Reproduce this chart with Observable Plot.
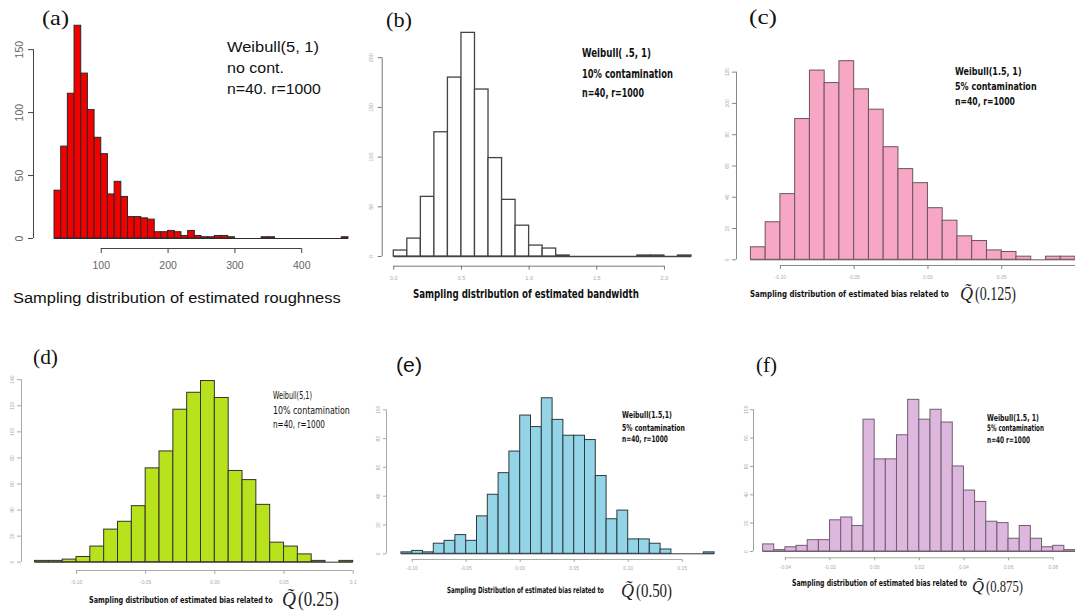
<!DOCTYPE html>
<html>
<head>
<meta charset="utf-8">
<script src="https://cdn.jsdelivr.net/npm/d3@7"></script>
<script src="https://cdn.jsdelivr.net/npm/@observablehq/plot@0.6"></script>
<style>
html, body { margin: 0; padding: 0; background: #fff; }
#fig { position: relative; width: 1075px; height: 611px; overflow: hidden; background: #fff; }
#fig svg { position: absolute; }
</style>
</head>
<body>
<div id="fig"></div>
<script>
// ---------------- DATA ----------------
// (a) estimated roughness
const aBins = [30,40,50,60,70,80,90,100,110,120,130,140,150,160,170,180,190,200,210,220,230,240,250,260,270,280,290,340,350,460];
const aCounts = [38,73,115,169,131,102,80,67,35,45,33,17,17,16,15,5,5,6,5,2,6,2,1,1,2,2,1,1,1,1];
const aBinWidth = 10;
const aXTicks = [100,200,300,400];
const aXTickLabels = ["100","200","300","400"];
const aYTicks = [0,50,100,150];

// (b) estimated bandwidth
const bBins = [0.0,0.1,0.2,0.3,0.4,0.5,0.6,0.7,0.8,0.9,1.0,1.1,1.2,1.8,1.9,2.1];
const bCounts = [6,18,60,125,180,225,168,99,57,31,11,8,1,1,1,1];
const bBinWidth = 0.1;
const bXTicks = [0.0,0.5,1.0,1.5,2.0];
const bXTickLabels = ["0.0","0.5","1.0","1.5","2.0"];
const bYTicks = [0,50,100,150,200];

// (c) bias, Q(0.125)
const cBins = [-0.12,-0.11,-0.10,-0.09,-0.08,-0.07,-0.06,-0.05,-0.04,-0.03,-0.02,-0.01,0.00,0.01,0.02,0.03,0.04,0.05,0.06,0.08,0.09];
const cCounts = [8,24,42,90,121,113,127,109,96,72,58,49,33,25,15,12,6,5,2,2,2];
const cBinWidth = 0.01;
const cXTicks = [-0.10,-0.05,0.00,0.05];
const cXTickLabels = ["-0.10","-0.05","0.00","0.05"];
const cYTicks = [0,20,40,60,80,100,120];

// (d) bias, Q(0.25)
const dBins = [-0.13,-0.12,-0.11,-0.10,-0.09,-0.08,-0.07,-0.06,-0.05,-0.04,-0.03,-0.02,-0.01,0.00,0.01,0.02,0.03,0.04,0.05,0.06,0.07,0.09];
const dCounts = [1,1,2,4,12,25,31,43,72,85,117,130,139,126,70,63,44,15,12,6,1,1];
const dBinWidth = 0.01;
const dXTicks = [-0.10,-0.05,0.00,0.05,0.10];
const dXTickLabels = ["-0.10","-0.05","0.00","0.05","0.1"];
const dYTicks = [0,20,40,60,80,100,120,140];

// (e) bias, Q(0.50)
const eBins = [-0.11,-0.10,-0.09,-0.08,-0.07,-0.06,-0.05,-0.04,-0.03,-0.02,-0.01,0.00,0.01,0.02,0.03,0.04,0.05,0.06,0.07,0.08,0.09,0.10,0.11,0.12,0.13,0.17];
const eCounts = [1,2,1,7,9,13,9,26,41,56,71,96,88,108,93,82,82,79,54,24,30,10,10,7,3,1];
const eBinWidth = 0.01;
const eXTicks = [-0.10,-0.05,0.00,0.05,0.10,0.15];
const eXTickLabels = ["-0.10","-0.05","0.00","0.05","0.10","0.15"];
const eYTicks = [0,20,40,60,80,100];

// (f) bias, Q(0.875)
const fBins = [-0.050,-0.045,-0.040,-0.035,-0.030,-0.025,-0.020,-0.015,-0.010,-0.005,0.000,0.005,0.010,0.015,0.020,0.025,0.030,0.035,0.040,0.045,0.050,0.055,0.060,0.065,0.070,0.075,0.080,0.085];
const fCounts = [5,1,3,4,8,8,22,24,18,93,65,65,82,107,93,100,91,60,43,35,21,20,9,18,9,3,4,1];
const fBinWidth = 0.005;
const fXTicks = [-0.04,-0.02,0.00,0.02,0.04,0.06,0.08];
const fXTickLabels = ["-0.04","-0.02","0.00","0.02","0.04","0.06","0.08"];
const fYTicks = [0,20,40,60,80,100];

// ---------------- TEXT ----------------
const panelLabels = ["(a)","(b)","(c)","(d)","(e)","(f)"];
const aNote = ["Weibull(5, 1)","no cont.","n=40. r=1000"];
const bNote = ["Weibull( .5, 1)","10% contamination","n=40, r=1000"];
const cNote = ["Weibull(1.5, 1)","5% contamination","n=40, r=1000"];
const dNote = ["Weibull(5,1)","10% contamination","n=40, r=1000"];
const eNote = ["Weibull(1.5,1)","5% contamination","n=40, r=1000"];
const fNote = ["Weibull(1.5, 1)","5% contamination","n=40 r=1000"];
const xTitles = [
  "Sampling distribution of estimated roughness",
  "Sampling distribution of estimated bandwidth",
  "Sampling distribution of estimated bias related to",
  "Sampling distribution of estimated bias related to",
  "Sampling Distribution of estimated bias related to",
  "Sampling distribution of estimated bias related to"
];
const qSymbol = "Q\u0303";
const qArgs = [null, null, "(0.125)", "(0.25)", "(0.50)", "(0.875)"];

// ---------------- LAYOUT / STYLE ----------------
const panels = [
  {bins:aBins, counts:aCounts, bw:aBinWidth, xTicks:aXTicks, xLab:aXTickLabels, yTicks:aYTicks, axisEnd:400,
   left:0, top:0, w:360, h:290, ml:33, mr:12, mt:24, mb:42, il:21, ib:10,
   xDomain:[30,470], yDomain:[0,170], fill:"#f20000", stroke:"#2a2a2a", sw:1,
   axis:"#444", lab:"#666", xfs:10.5, yfs:10.5, ts:5, xtp:8, ytp:6},
  {bins:bBins, counts:bCounts, bw:bBinWidth, xTicks:bXTicks, xLab:bXTickLabels, yTicks:bYTicks, axisEnd:2.0,
   left:360, top:0, w:350, h:290, ml:21.7, mr:19, mt:27.4, mb:24.3, il:11.6, ib:9.7,
   xDomain:[0,2.2], yDomain:[0,230], fill:"#ffffff", stroke:"#444", sw:1.3,
   axis:"#777", lab:"#aaa", xfs:5.5, yfs:5.5, ts:4, xtp:6, ytp:5},
  {bins:cBins, counts:cCounts, bw:cBinWidth, xTicks:cXTicks, xLab:cXTickLabels, yTicks:cYTicks, axisEnd:0.10,
   left:710, top:0, w:365, h:290, ml:26, mr:0, mt:56, mb:25, il:14.4, ib:5.7,
   xDomain:[-0.12,0.10], yDomain:[0,130], fill:"#f7a7c3", stroke:"#6a5560", sw:1,
   axis:"#888", lab:"#aaa", xfs:5, yfs:5, ts:4, xtp:6, ytp:4},
  {bins:dBins, counts:dCounts, bw:dBinWidth, xTicks:dXTicks, xLab:dXTickLabels, yTicks:dYTicks, axisEnd:0.10,
   left:0, top:340, w:370, h:271, ml:21, mr:17.3, mt:26.2, mb:41, il:13.5, ib:8.3,
   xDomain:[-0.13,0.10], yDomain:[0,150], fill:"#b8e21c", stroke:"#333", sw:1,
   axis:"#aaa", lab:"#aaa", xfs:5, yfs:5, ts:4, xtp:6, ytp:4},
  {bins:eBins, counts:eCounts, bw:eBinWidth, xTicks:eXTicks, xLab:eXTickLabels, yTicks:eYTicks, axisEnd:0.15,
   left:370, top:340, w:350, h:271, ml:16, mr:5.9, mt:47.7, mb:52, il:14.9, ib:5.7,
   xDomain:[-0.11,0.18], yDomain:[0,115], fill:"#93d4e7", stroke:"#2d3a40", sw:1,
   axis:"#aaa", lab:"#aaa", xfs:5, yfs:5, ts:3, xtp:4, ytp:4},
  {bins:fBins, counts:fCounts, bw:fBinWidth, xTicks:fXTicks, xLab:fXTickLabels, yTicks:fYTicks, axisEnd:0.08,
   left:720, top:340, w:355, h:271, ml:33, mr:0, mt:48, mb:53.7, il:9.6, ib:6.3,
   xDomain:[-0.05,0.09], yDomain:[0,115], fill:"#ddb7de", stroke:"#6f5f70", sw:1,
   axis:"#9aa59a", lab:"#aaa", xfs:5, yfs:5, ts:3, xtp:5, ytp:3}
];

const fig = document.getElementById("fig");

function makePanel(p) {
  const data = p.bins.map((b, i) => ({x1: b, x2: b + p.bw, count: p.counts[i]}));
  const fmt = d => p.xLab[p.xTicks.indexOf(d)];
  const svg = Plot.plot({
    width: p.w, height: p.h,
    marginLeft: p.ml, marginRight: p.mr, marginTop: p.mt, marginBottom: p.mb,
    x: {domain: p.xDomain, insetLeft: p.il, insetRight: 0},
    y: {domain: p.yDomain, insetBottom: p.ib},
    style: {background: "transparent", fontFamily: "Liberation Sans, Arial, sans-serif", overflow: "visible"},
    marks: [
      Plot.ruleY([0], {x1: p.bins[0], x2: p.bins[p.bins.length - 1] + p.bw, stroke: p.stroke, strokeWidth: p.sw}),
      Plot.rect(data, {x1: "x1", x2: "x2", y1: 0, y2: "count", fill: p.fill, stroke: p.stroke, strokeWidth: p.sw, inset: 0}),
      Plot.ruleY([0], {x1: p.xTicks[0], x2: p.axisEnd, dy: p.ib, stroke: p.axis, strokeWidth: 1}),
      Plot.axisX(p.xTicks, {tickSize: p.ts, tickPadding: p.xtp, fontSize: p.xfs, stroke: p.axis, fill: p.lab, tickFormat: fmt, label: null}),
      Plot.ruleX([p.xDomain[0]], {y1: p.yTicks[0], y2: p.yTicks[p.yTicks.length - 1], dx: -p.il, stroke: p.axis, strokeWidth: 1}),
      Plot.axisY(p.yTicks, {tickSize: p.ts, tickPadding: p.ytp, tickRotate: -90, fontSize: p.yfs, stroke: p.axis, fill: p.lab, label: null})
    ]
  });
  svg.style.left = p.left + "px";
  svg.style.top = p.top + "px";
  fig.appendChild(svg);
}
panels.forEach(makePanel);

// ---------------- TEXT OVERLAY ----------------
const serif = "Liberation Serif, DejaVu Serif, serif";
const sans = "Liberation Sans, Arial, sans-serif";
const narrow = "Liberation Sans Narrow, DejaVu Sans Condensed, Liberation Sans, sans-serif";

const labelPos = [
  {x:42, y:25, size:21, len:27, family:serif},
  {x:386, y:27, size:21, len:26, family:serif},
  {x:749, y:24, size:21, len:28, family:serif},
  {x:33, y:364, size:21, len:25, family:serif},
  {x:396, y:372, size:21, len:26, family:sans},
  {x:756, y:372, size:21, len:21, family:serif}
];
const notes = [aNote, bNote, cNote, dNote, eNote, fNote];
const notePos = [
  {x:227, ys:[52,73,94], size:14, lens:[92,57,94], family:sans, weight:"normal"},
  {x:582, ys:[57,78,97], size:12, lens:[69,91,62], family:narrow, weight:"bold"},
  {x:955, ys:[75,90,104.5], size:11, lens:[66.7,81.7,60], family:narrow, weight:"bold"},
  {x:273, ys:[398.5,413.5,427.5], size:10.5, lens:[39,77,52], family:narrow, weight:"normal"},
  {x:622, ys:[418.3,430.6,442.3], size:9, lens:[50,63,46], family:narrow, weight:"bold"},
  {x:987, ys:[420.5,431,442.5], size:9, lens:[52,57,43], family:narrow, weight:"bold"}
];
const titlePos = [
  {x:13, y:303, size:15, len:328, family:sans, weight:"normal"},
  {x:413, y:297.5, size:12, len:226, family:narrow, weight:"bold"},
  {x:750, y:296.5, size:9.5, len:199, family:narrow, weight:"bold"},
  {x:89, y:602.5, size:9.5, len:184, family:narrow, weight:"bold"},
  {x:447, y:593, size:8.5, len:157, family:narrow, weight:"bold"},
  {x:792, y:586.3, size:9, len:175, family:narrow, weight:"bold"}
];
// Q symbol and its argument: separate text pieces side by side
const qPos = [null, null,
  {qx:960, ax:975, y:300, size:18, qlen:13, alen:41},
  {qx:282, ax:298, y:606, size:20, qlen:14, alen:41},
  {qx:621, ax:636, y:597, size:18, qlen:13, alen:36},
  {qx:972, ax:986, y:592, size:17, qlen:12, alen:37}
];

const ov = d3.select(fig).append("svg")
  .attr("width", 1075).attr("height", 611)
  .style("left", "0px").style("top", "0px");

// text is drawn at its natural size, then squeezed horizontally to the measured width of the reference
function addText(t, x, y, size, family, weight, len, color, style) {
  const el = ov.append("text")
    .attr("x", 0).attr("y", 0)
    .attr("font-size", size).attr("font-family", family)
    .attr("font-weight", weight || "normal")
    .attr("font-style", style || "normal")
    .attr("fill", color || "#111")
    .text(t);
  const natural = el.node().getComputedTextLength() || len;
  const sx = len / natural;
  el.attr("transform", `translate(${x},${y}) scale(${sx.toFixed(4)},1)`);
}

panelLabels.forEach((t, i) => {
  const p = labelPos[i];
  addText(t, p.x, p.y, p.size, p.family, "normal", p.len, "#111");
});
notes.forEach((lines, i) => {
  const p = notePos[i];
  lines.forEach((t, j) => addText(t, p.x, p.ys[j], p.size, p.family, p.weight, p.lens[j], "#111"));
});
xTitles.forEach((t, i) => {
  const p = titlePos[i];
  addText(t, p.x, p.y, p.size, p.family, p.weight, p.len, "#111");
});
qArgs.forEach((arg, i) => {
  if (!arg) return;
  const p = qPos[i];
  addText(qSymbol, p.qx, p.y, p.size, serif, "normal", p.qlen, "#222", "italic");
  addText(arg, p.ax, p.y, p.size, serif, "normal", p.alen, "#222");
});
</script>
</body>
</html>
